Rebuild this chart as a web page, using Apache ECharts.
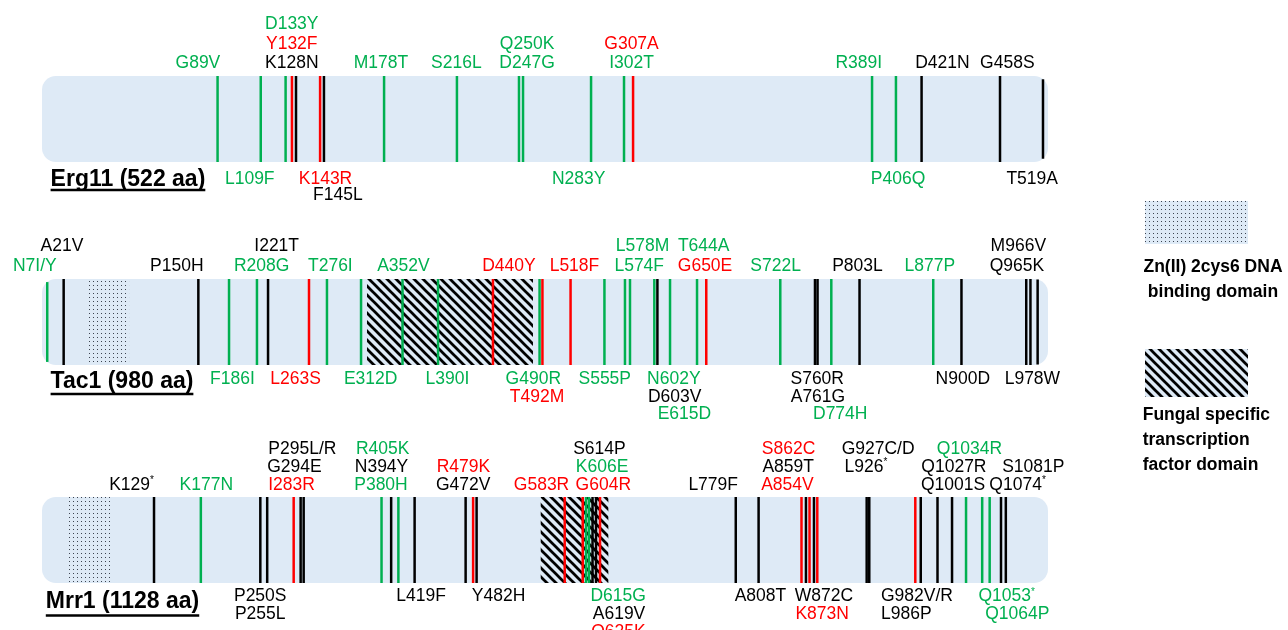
<!DOCTYPE html>
<html><head><meta charset="utf-8">
<script src="https://cdn.jsdelivr.net/npm/echarts@6/dist/echarts.min.js"></script>
<style>html,body{margin:0;padding:0;background:#fff}#c{width:1288px;height:630px}</style>
</head><body><div id="c"></div>
<script>
// ================= DATA =================
const proteinTitles = ['Erg11 (522 aa)', 'Tac1 (980 aa)', 'Mrr1 (1128 aa)'];
const proteinLengths = [522, 980, 1128];

// Erg11
const erg11Mutations = ['G89V','L109F','D133Y','Y132F','K128N','K143R','F145L','M178T','S216L','D247G','Q250K','N283Y','I302T','G307A','R389I','P406Q','D421N','G458S','T519A'];
const erg11Sites = [91.1,113.5,126.4,129.7,131.8,144.3,146.3,177.5,215.3,247.5,249.6,284.9,302.0,306.7,430.7,443.1,456.4,497.1,519.4];
const erg11Tones = ['g','g','g','r','k','r','k','g','g','g','g','g','g','r','g','g','k','k','k'];
const erg11LabelAt = [80.9,107.8,129.6,129.6,129.6,147.1,153.5,175.9,215.0,251.7,251.7,278.5,305.9,305.9,423.8,444.2,467.2,500.9,513.8];
const erg11LabelRow = [1,-1,3,2,1,-1,-2,1,1,1,2,-1,1,2,1,-1,1,1,-1];
const erg11Domains = [];

// Tac1
const tac1Mutations = ['N7I/Y','A21V','P150H','F186I','R208G','I221T','L263S','T276I','E312D','A352V','L390I','D440Y','G490R','T492M','L518F','S555P','L574F','L578M','N602Y','D603V','E615D','T644A','G650E','S722L','S760R','A761G','D774H','P803L','L877P','N900D','Q965K','M966V','L978W'];
const tac1Sites = [5.1,21.1,152.3,182.2,209.4,220.2,260.1,277.6,310.8,351.2,385.8,439.3,484.7,487.5,514.9,547.9,567.9,572.8,596.5,599.5,611.8,638.1,647.1,719.2,753.0,755.5,768.9,796.4,868.2,895.7,958.8,962.9,969.9];
const tac1Tones = ['g','k','k','g','g','k','r','g','g','g','g','r','g','r','r','g','g','g','g','k','g','g','r','g','k','k','g','k','g','k','k','k','k'];
const tac1LabelAt = [-7.0,19.5,131.3,185.5,214.0,228.6,247.0,280.9,320.2,352.1,395.0,454.9,478.6,482.2,518.7,548.2,581.8,585.1,615.5,616.3,625.8,644.6,645.9,714.7,755.2,755.9,777.6,794.4,864.9,897.0,949.8,951.1,964.8];
const tac1LabelRow = [1,2,1,-1,1,2,-1,1,-1,1,-1,1,-1,-2,1,-1,1,2,-1,-2,-3,2,1,1,-1,-2,-3,1,1,-1,1,2,-1];
const tac1Domains = [[43.8,84.8,0],[316.6,478.3,1]];   // [start, end, kind] kind 0 = Zn(II)2Cys6, 1 = fungal TF

// Mrr1
const mrr1Mutations = ['K129*','K177N','P250S','P255L','I283R','G294E','P295L/R','P380H','N394Y','R405K','L419F','G472V','R479K','Y482H','G583R','G604R','K606E','D615G','S614P','A619V','Q625K','L779F','A808T','A854V','A859T','S862C','W872C','K873N','L926*','G927C/D','G982V/R','L986P','Q1001S','Q1027R','Q1034R','Q1053*','Q1064P','Q1074*','S1081P'];
const mrr1Sites = [125.6,178.1,244.8,252.5,282.2,290.0,293.4,380.7,391.5,399.6,417.8,475.0,483.4,487.3,586.1,606.3,610.0,613.3,617.3,621.2,625.7,777.9,803.5,851.6,856.6,860.6,865.6,869.3,924.7,927.6,979.2,985.3,1004.1,1020.4,1036.1,1054.2,1062.6,1075.3,1080.7];
const mrr1Tones = ['k','g','k','k','r','k','k','g','k','g','k','k','r','k','r','r','g','g','k','k','r','k','k','r','k','r','k','r','k','k','r','k','k','k','g','g','g','k','k'];
const mrr1LabelTones = ['k','g','k','k','r','k','k','g','k','g','k','k','r','k','r','r','g','g','k','k','r','k','k','r','k','r','k','r','k','k','k','k','k','k','g','g','g','k','k'];
const mrr1LabelAt = [100.4,184.2,244.7,244.7,279.8,283.0,291.9,380.1,380.7,382.0,425.0,472.3,472.6,511.9,560.1,629.4,628.0,646.0,625.0,647.0,646.4,752.6,805.6,835.8,836.7,837.1,876.7,874.8,923.9,937.5,981.1,969.2,1021.5,1022.5,1039.9,1081.7,1093.6,1093.9,1111.5];
const mrr1LabelRow = [1,1,-1,-2,1,2,3,1,2,3,-1,1,2,-1,1,1,2,-1,3,-2,-3,1,-1,1,2,3,-1,-2,2,3,-1,-2,1,2,3,-1,-2,1,2];
const mrr1Domains = [[30.3,77.4,0],[559.2,635.0,1]];

const legendTexts = [['Zn(II) 2cys6 DNA','binding domain'],['Fungal specific','transcription','factor domain']];

// ================= STYLE / LAYOUT =================
const TONE = {k:'#000000', g:'#00B050', r:'#FF0000'};
const FONT = '"Liberation Sans", Arial, sans-serif';
const BAR_FILL = '#DEEAF6';
const RADIUS = 14;
const layouts = [
  {top:76,  height:86, upGap:12.6, upStep:19.7, downGap:17.0, downStep:15.8, title:[50.6,179.5], ul:190},
  {top:279, height:86, upGap:12.7, upStep:20.0, downGap:14.5, downStep:17.4, title:[50.6,381.7], ul:394},
  {top:497, height:86, upGap:12.2, upStep:18.0, downGap:13.5, downStep:17.7, title:[45.8,602],   ul:615.5}
];
const GRID_LEFT = 42, GRID_WIDTH = 1006;
const LABEL_SIZE = 17.5;

function makeDotTile(){
  const c = document.createElement('canvas'); c.width = 4; c.height = 4;
  const x = c.getContext('2d');
  x.fillStyle = BAR_FILL; x.fillRect(0,0,4,4);
  x.fillStyle = '#3c4450'; x.fillRect(1,1,1,1);
  return c;
}
function makeHatchTile(){
  const s = 9;
  const c = document.createElement('canvas'); c.width = s; c.height = s;
  const x = c.getContext('2d');
  x.fillStyle = BAR_FILL; x.fillRect(0,0,s,s);
  x.strokeStyle = '#000'; x.lineWidth = 2.7;
  for (let k = -1; k <= 1; k++) { x.beginPath(); x.moveTo(-1, k*s - 1); x.lineTo(s+1, s + k*s + 1); x.stroke(); }
  return c;
}
const dotPattern = {image: makeDotTile(), repeat: 'repeat'};
const hatchPattern = {image: makeHatchTile(), repeat: 'repeat'};
const domainFill = [dotPattern, hatchPattern];

const proteins = [
  {sites:erg11Sites, names:erg11Mutations, tones:erg11Tones, labelTones:erg11Tones, at:erg11LabelAt, rows:erg11LabelRow, domains:erg11Domains},
  {sites:tac1Sites, names:tac1Mutations, tones:tac1Tones, labelTones:tac1Tones, at:tac1LabelAt, rows:tac1LabelRow, domains:tac1Domains},
  {sites:mrr1Sites, names:mrr1Mutations, tones:mrr1Tones, labelTones:mrr1LabelTones, at:mrr1LabelAt, rows:mrr1LabelRow, domains:mrr1Domains}
];

const grids = [], xAxes = [], yAxes = [], series = [];
proteins.forEach((p, gi) => {
  const L = layouts[gi], len = proteinLengths[gi];
  grids.push({left:GRID_LEFT, width:GRID_WIDTH, top:L.top, height:L.height});
  xAxes.push({type:'value', gridIndex:gi, min:0, max:len, show:false});
  yAxes.push({type:'value', gridIndex:gi, min:0, max:1, show:false});
  // protein bar
  series.push({type:'custom', xAxisIndex:gi, yAxisIndex:gi, clip:false, silent:true, z:1,
    data:[[0, len]],
    renderItem(params, api){
      const a = api.coord([api.value(0), 1]), b = api.coord([api.value(1), 0]);
      return {type:'rect', shape:{x:a[0], y:a[1], width:b[0]-a[0], height:b[1]-a[1], r:RADIUS}, style:{fill:BAR_FILL}};
    }});
  // domains
  if (p.domains.length) series.push({type:'custom', xAxisIndex:gi, yAxisIndex:gi, clip:false, silent:true, z:2,
    data:p.domains,
    renderItem(params, api){
      const a = api.coord([api.value(0), 1]), b = api.coord([api.value(1), 0]);
      return {type:'rect', shape:{x:a[0], y:a[1], width:b[0]-a[0], height:b[1]-a[1]}, style:{fill:domainFill[api.value(2)]}};
    }});
  // mutation lines
  series.push({type:'custom', xAxisIndex:gi, yAxisIndex:gi, clip:false, silent:true, z:3,
    data:p.sites.map((s,i)=>[s, i]),
    renderItem(params, api){
      const i = api.value(1);
      const t = api.coord([api.value(0), 1]), b = api.coord([api.value(0), 0]);
      const left = api.coord([0,0])[0], right = api.coord([proteinLengths[gi],0])[0];
      const d = Math.min(t[0]-left, right-t[0]);
      let inset = 0;
      if (d < RADIUS) inset = RADIUS - Math.sqrt(Math.max(0, RADIUS*RADIUS - (RADIUS-d)*(RADIUS-d)));
      return {type:'line', shape:{x1:t[0], y1:t[1]+inset, x2:b[0], y2:b[1]-inset},
        style:{stroke:TONE[p.tones[i]], lineWidth:2.5}};
    }});
  // labels
  series.push({type:'custom', xAxisIndex:gi, yAxisIndex:gi, clip:false, silent:true, z:4,
    data:p.at.map((a,i)=>[a, i]),
    renderItem(params, api){
      const i = api.value(1), row = p.rows[i];
      const t = api.coord([api.value(0), 1]), b = api.coord([api.value(0), 0]);
      const y = row > 0 ? t[1] - L.upGap - (row-1)*L.upStep : b[1] + L.downGap + (-row-1)*L.downStep;
      const name = p.names[i], color = TONE[p.labelTones[i]];
      const star = name.endsWith('*');
      const text = star ? '{n|' + name.slice(0,-1) + '}{s|*}' : name;
      return {type:'text', x:t[0], y:y,
        style:{text:text, fill:color, fontSize:LABEL_SIZE, fontFamily:FONT, align:'center', verticalAlign:'middle',
          rich:{n:{fill:color, fontSize:LABEL_SIZE, fontFamily:FONT},
                s:{fill:color, fontSize:10, fontFamily:FONT, padding:[0,0,9,0]}}}};
    }});
});

// titles & legend (non-data decorations)
const mctx = document.createElement('canvas').getContext('2d');
const titleFont = 'bold 23px ' + FONT;
mctx.font = titleFont;
const graphic = [];
proteinTitles.forEach((t, i) => {
  const L = layouts[i];
  const w = mctx.measureText(t).width;
  graphic.push({type:'text', x:L.title[0], y:L.title[1], style:{text:t, font:titleFont, fill:'#000', align:'left', verticalAlign:'middle'}});
  graphic.push({type:'line', shape:{x1:L.title[0], y1:L.ul, x2:L.title[0]+w, y2:L.ul}, style:{stroke:'#000', lineWidth:2.3}});
});
graphic.push({type:'rect', shape:{x:1145, y:201, width:103, height:43}, style:{fill:dotPattern}});
graphic.push({type:'rect', shape:{x:1145, y:349, width:103, height:48}, style:{fill:hatchPattern}});
const legFont = 'bold 17.5px ' + FONT;
legendTexts[0].forEach((s, k) => graphic.push({type:'text', x:1213, y:267.3 + k*24.4, style:{text:s, font:legFont, fill:'#000', align:'center', verticalAlign:'middle'}}));
legendTexts[1].forEach((s, k) => graphic.push({type:'text', x:1142.7, y:415 + k*25, style:{text:s, font:legFont, fill:'#000', align:'left', verticalAlign:'middle'}}));

const chart = echarts.init(document.getElementById('c'), null, {renderer:'canvas'});
chart.setOption({animation:false, backgroundColor:'#fff', grid:grids, xAxis:xAxes, yAxis:yAxes, series:series, graphic:graphic});
</script></body></html>
